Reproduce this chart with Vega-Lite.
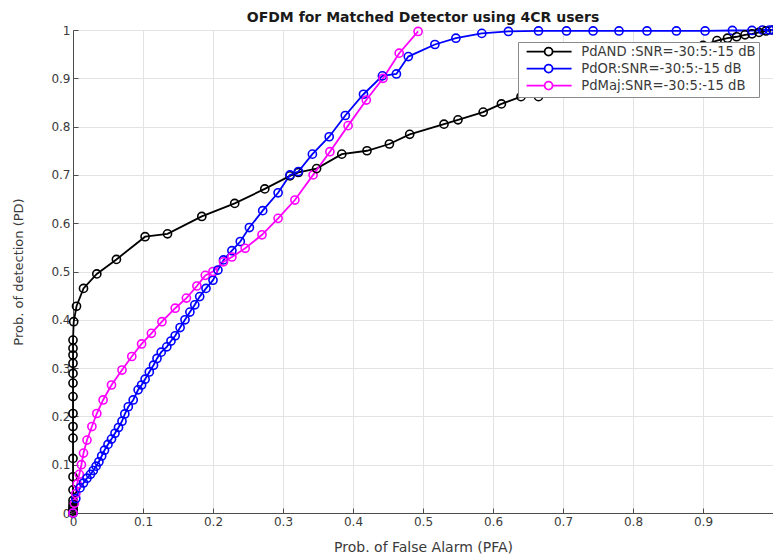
{
  "$schema": "https://vega.github.io/schema/vega-lite/v6.json",
  "width": 700,
  "height": 483,
  "autosize": {"type": "none"},
  "padding": {"left": 73, "top": 30, "right": 0, "bottom": 47},
  "background": "white",
  "config": {
    "font": "DejaVu Sans",
    "view": {"stroke": null},
    "axis": {
      "gridColor": "#e3e3e3",
      "gridWidth": 1,
      "domainColor": "#4d4d4d",
      "tickColor": "#4d4d4d",
      "tickSize": -5,
      "labelFont": "DejaVu Sans",
      "labelFontSize": 12,
      "labelColor": "#3a3a3a",
      "titleFont": "DejaVu Sans",
      "titleFontWeight": "normal",
      "titleColor": "#3a3a3a"
    }
  },
  "title": {
    "text": "OFDM for Matched Detector using 4CR users",
    "font": "DejaVu Sans",
    "fontSize": 14,
    "fontWeight": "bold",
    "color": "#1a1a1a",
    "offset": -2,
    "anchor": "middle"
  },
  "data": {
    "values": [
      {"s": "PdAND :SNR=-30:5:-15 dB", "x": 0, "y": 0},
      {"s": "PdAND :SNR=-30:5:-15 dB", "x": 0, "y": 0.004},
      {"s": "PdAND :SNR=-30:5:-15 dB", "x": 0, "y": 0.008},
      {"s": "PdAND :SNR=-30:5:-15 dB", "x": 0, "y": 0.012},
      {"s": "PdAND :SNR=-30:5:-15 dB", "x": 0, "y": 0.018},
      {"s": "PdAND :SNR=-30:5:-15 dB", "x": 0, "y": 0.026},
      {"s": "PdAND :SNR=-30:5:-15 dB", "x": 0, "y": 0.048},
      {"s": "PdAND :SNR=-30:5:-15 dB", "x": 0, "y": 0.075},
      {"s": "PdAND :SNR=-30:5:-15 dB", "x": 0, "y": 0.113},
      {"s": "PdAND :SNR=-30:5:-15 dB", "x": 0, "y": 0.155},
      {"s": "PdAND :SNR=-30:5:-15 dB", "x": 0, "y": 0.179},
      {"s": "PdAND :SNR=-30:5:-15 dB", "x": 0, "y": 0.206},
      {"s": "PdAND :SNR=-30:5:-15 dB", "x": 0, "y": 0.241},
      {"s": "PdAND :SNR=-30:5:-15 dB", "x": 0, "y": 0.269},
      {"s": "PdAND :SNR=-30:5:-15 dB", "x": 0, "y": 0.289},
      {"s": "PdAND :SNR=-30:5:-15 dB", "x": 0, "y": 0.31},
      {"s": "PdAND :SNR=-30:5:-15 dB", "x": 0, "y": 0.327},
      {"s": "PdAND :SNR=-30:5:-15 dB", "x": 0, "y": 0.341},
      {"s": "PdAND :SNR=-30:5:-15 dB", "x": 0, "y": 0.358},
      {"s": "PdAND :SNR=-30:5:-15 dB", "x": 0.001, "y": 0.396},
      {"s": "PdAND :SNR=-30:5:-15 dB", "x": 0.005, "y": 0.428},
      {"s": "PdAND :SNR=-30:5:-15 dB", "x": 0.015, "y": 0.465},
      {"s": "PdAND :SNR=-30:5:-15 dB", "x": 0.034, "y": 0.495},
      {"s": "PdAND :SNR=-30:5:-15 dB", "x": 0.062, "y": 0.525},
      {"s": "PdAND :SNR=-30:5:-15 dB", "x": 0.103, "y": 0.572},
      {"s": "PdAND :SNR=-30:5:-15 dB", "x": 0.135, "y": 0.578},
      {"s": "PdAND :SNR=-30:5:-15 dB", "x": 0.184, "y": 0.614},
      {"s": "PdAND :SNR=-30:5:-15 dB", "x": 0.231, "y": 0.641},
      {"s": "PdAND :SNR=-30:5:-15 dB", "x": 0.274, "y": 0.671},
      {"s": "PdAND :SNR=-30:5:-15 dB", "x": 0.31, "y": 0.698},
      {"s": "PdAND :SNR=-30:5:-15 dB", "x": 0.322, "y": 0.705},
      {"s": "PdAND :SNR=-30:5:-15 dB", "x": 0.348, "y": 0.713},
      {"s": "PdAND :SNR=-30:5:-15 dB", "x": 0.384, "y": 0.743},
      {"s": "PdAND :SNR=-30:5:-15 dB", "x": 0.42, "y": 0.75},
      {"s": "PdAND :SNR=-30:5:-15 dB", "x": 0.452, "y": 0.764},
      {"s": "PdAND :SNR=-30:5:-15 dB", "x": 0.481, "y": 0.784},
      {"s": "PdAND :SNR=-30:5:-15 dB", "x": 0.53, "y": 0.805},
      {"s": "PdAND :SNR=-30:5:-15 dB", "x": 0.55, "y": 0.814},
      {"s": "PdAND :SNR=-30:5:-15 dB", "x": 0.586, "y": 0.83},
      {"s": "PdAND :SNR=-30:5:-15 dB", "x": 0.612, "y": 0.847},
      {"s": "PdAND :SNR=-30:5:-15 dB", "x": 0.64, "y": 0.862},
      {"s": "PdAND :SNR=-30:5:-15 dB", "x": 0.665, "y": 0.862},
      {"s": "PdAND :SNR=-30:5:-15 dB", "x": 0.7, "y": 0.888},
      {"s": "PdAND :SNR=-30:5:-15 dB", "x": 0.74, "y": 0.902},
      {"s": "PdAND :SNR=-30:5:-15 dB", "x": 0.78, "y": 0.918},
      {"s": "PdAND :SNR=-30:5:-15 dB", "x": 0.82, "y": 0.935},
      {"s": "PdAND :SNR=-30:5:-15 dB", "x": 0.86, "y": 0.952},
      {"s": "PdAND :SNR=-30:5:-15 dB", "x": 0.9, "y": 0.968},
      {"s": "PdAND :SNR=-30:5:-15 dB", "x": 0.92, "y": 0.978},
      {"s": "PdAND :SNR=-30:5:-15 dB", "x": 0.935, "y": 0.983},
      {"s": "PdAND :SNR=-30:5:-15 dB", "x": 0.948, "y": 0.986},
      {"s": "PdAND :SNR=-30:5:-15 dB", "x": 0.96, "y": 0.99},
      {"s": "PdAND :SNR=-30:5:-15 dB", "x": 0.97, "y": 0.992},
      {"s": "PdAND :SNR=-30:5:-15 dB", "x": 0.98, "y": 0.995},
      {"s": "PdAND :SNR=-30:5:-15 dB", "x": 0.99, "y": 0.998},
      {"s": "PdAND :SNR=-30:5:-15 dB", "x": 1, "y": 1},
      {"s": "PdOR:SNR=-30:5:-15 dB", "x": 0, "y": 0},
      {"s": "PdOR:SNR=-30:5:-15 dB", "x": 0.004, "y": 0.03},
      {"s": "PdOR:SNR=-30:5:-15 dB", "x": 0.01, "y": 0.052},
      {"s": "PdOR:SNR=-30:5:-15 dB", "x": 0.015, "y": 0.062},
      {"s": "PdOR:SNR=-30:5:-15 dB", "x": 0.02, "y": 0.072},
      {"s": "PdOR:SNR=-30:5:-15 dB", "x": 0.025, "y": 0.08},
      {"s": "PdOR:SNR=-30:5:-15 dB", "x": 0.029, "y": 0.088},
      {"s": "PdOR:SNR=-30:5:-15 dB", "x": 0.033, "y": 0.097},
      {"s": "PdOR:SNR=-30:5:-15 dB", "x": 0.037, "y": 0.106},
      {"s": "PdOR:SNR=-30:5:-15 dB", "x": 0.041, "y": 0.118},
      {"s": "PdOR:SNR=-30:5:-15 dB", "x": 0.045, "y": 0.13},
      {"s": "PdOR:SNR=-30:5:-15 dB", "x": 0.05, "y": 0.142},
      {"s": "PdOR:SNR=-30:5:-15 dB", "x": 0.055, "y": 0.153},
      {"s": "PdOR:SNR=-30:5:-15 dB", "x": 0.06, "y": 0.165},
      {"s": "PdOR:SNR=-30:5:-15 dB", "x": 0.065, "y": 0.177},
      {"s": "PdOR:SNR=-30:5:-15 dB", "x": 0.07, "y": 0.19},
      {"s": "PdOR:SNR=-30:5:-15 dB", "x": 0.074, "y": 0.205},
      {"s": "PdOR:SNR=-30:5:-15 dB", "x": 0.079, "y": 0.22},
      {"s": "PdOR:SNR=-30:5:-15 dB", "x": 0.086, "y": 0.234},
      {"s": "PdOR:SNR=-30:5:-15 dB", "x": 0.093, "y": 0.255},
      {"s": "PdOR:SNR=-30:5:-15 dB", "x": 0.098, "y": 0.265},
      {"s": "PdOR:SNR=-30:5:-15 dB", "x": 0.103, "y": 0.277},
      {"s": "PdOR:SNR=-30:5:-15 dB", "x": 0.109, "y": 0.292},
      {"s": "PdOR:SNR=-30:5:-15 dB", "x": 0.115, "y": 0.306},
      {"s": "PdOR:SNR=-30:5:-15 dB", "x": 0.12, "y": 0.32},
      {"s": "PdOR:SNR=-30:5:-15 dB", "x": 0.126, "y": 0.333},
      {"s": "PdOR:SNR=-30:5:-15 dB", "x": 0.134, "y": 0.344},
      {"s": "PdOR:SNR=-30:5:-15 dB", "x": 0.14, "y": 0.356},
      {"s": "PdOR:SNR=-30:5:-15 dB", "x": 0.146, "y": 0.367},
      {"s": "PdOR:SNR=-30:5:-15 dB", "x": 0.153, "y": 0.384},
      {"s": "PdOR:SNR=-30:5:-15 dB", "x": 0.16, "y": 0.4},
      {"s": "PdOR:SNR=-30:5:-15 dB", "x": 0.167, "y": 0.416},
      {"s": "PdOR:SNR=-30:5:-15 dB", "x": 0.174, "y": 0.431},
      {"s": "PdOR:SNR=-30:5:-15 dB", "x": 0.181, "y": 0.448},
      {"s": "PdOR:SNR=-30:5:-15 dB", "x": 0.19, "y": 0.465},
      {"s": "PdOR:SNR=-30:5:-15 dB", "x": 0.2, "y": 0.482},
      {"s": "PdOR:SNR=-30:5:-15 dB", "x": 0.207, "y": 0.503},
      {"s": "PdOR:SNR=-30:5:-15 dB", "x": 0.215, "y": 0.524},
      {"s": "PdOR:SNR=-30:5:-15 dB", "x": 0.227, "y": 0.543},
      {"s": "PdOR:SNR=-30:5:-15 dB", "x": 0.239, "y": 0.562},
      {"s": "PdOR:SNR=-30:5:-15 dB", "x": 0.252, "y": 0.591},
      {"s": "PdOR:SNR=-30:5:-15 dB", "x": 0.271, "y": 0.626},
      {"s": "PdOR:SNR=-30:5:-15 dB", "x": 0.293, "y": 0.663},
      {"s": "PdOR:SNR=-30:5:-15 dB", "x": 0.31, "y": 0.7},
      {"s": "PdOR:SNR=-30:5:-15 dB", "x": 0.322, "y": 0.707},
      {"s": "PdOR:SNR=-30:5:-15 dB", "x": 0.342, "y": 0.743},
      {"s": "PdOR:SNR=-30:5:-15 dB", "x": 0.366, "y": 0.779},
      {"s": "PdOR:SNR=-30:5:-15 dB", "x": 0.389, "y": 0.823},
      {"s": "PdOR:SNR=-30:5:-15 dB", "x": 0.415, "y": 0.867},
      {"s": "PdOR:SNR=-30:5:-15 dB", "x": 0.442, "y": 0.905},
      {"s": "PdOR:SNR=-30:5:-15 dB", "x": 0.462, "y": 0.909},
      {"s": "PdOR:SNR=-30:5:-15 dB", "x": 0.479, "y": 0.945},
      {"s": "PdOR:SNR=-30:5:-15 dB", "x": 0.517, "y": 0.97},
      {"s": "PdOR:SNR=-30:5:-15 dB", "x": 0.547, "y": 0.983},
      {"s": "PdOR:SNR=-30:5:-15 dB", "x": 0.584, "y": 0.993},
      {"s": "PdOR:SNR=-30:5:-15 dB", "x": 0.622, "y": 0.997},
      {"s": "PdOR:SNR=-30:5:-15 dB", "x": 0.665, "y": 0.998},
      {"s": "PdOR:SNR=-30:5:-15 dB", "x": 0.705, "y": 0.998},
      {"s": "PdOR:SNR=-30:5:-15 dB", "x": 0.743, "y": 0.998},
      {"s": "PdOR:SNR=-30:5:-15 dB", "x": 0.78, "y": 0.998},
      {"s": "PdOR:SNR=-30:5:-15 dB", "x": 0.82, "y": 0.998},
      {"s": "PdOR:SNR=-30:5:-15 dB", "x": 0.862, "y": 0.998},
      {"s": "PdOR:SNR=-30:5:-15 dB", "x": 0.903, "y": 0.998},
      {"s": "PdOR:SNR=-30:5:-15 dB", "x": 0.942, "y": 0.999},
      {"s": "PdOR:SNR=-30:5:-15 dB", "x": 0.97, "y": 0.999},
      {"s": "PdOR:SNR=-30:5:-15 dB", "x": 0.985, "y": 1},
      {"s": "PdOR:SNR=-30:5:-15 dB", "x": 0.995, "y": 1},
      {"s": "PdOR:SNR=-30:5:-15 dB", "x": 1, "y": 1},
      {"s": "PdMaj:SNR=-30:5:-15 dB", "x": 0, "y": 0},
      {"s": "PdMaj:SNR=-30:5:-15 dB", "x": 0.002, "y": 0.02},
      {"s": "PdMaj:SNR=-30:5:-15 dB", "x": 0.004, "y": 0.04},
      {"s": "PdMaj:SNR=-30:5:-15 dB", "x": 0.006, "y": 0.06},
      {"s": "PdMaj:SNR=-30:5:-15 dB", "x": 0.009, "y": 0.08},
      {"s": "PdMaj:SNR=-30:5:-15 dB", "x": 0.012, "y": 0.1},
      {"s": "PdMaj:SNR=-30:5:-15 dB", "x": 0.015, "y": 0.124},
      {"s": "PdMaj:SNR=-30:5:-15 dB", "x": 0.02, "y": 0.151},
      {"s": "PdMaj:SNR=-30:5:-15 dB", "x": 0.027, "y": 0.179},
      {"s": "PdMaj:SNR=-30:5:-15 dB", "x": 0.034, "y": 0.206},
      {"s": "PdMaj:SNR=-30:5:-15 dB", "x": 0.043, "y": 0.234},
      {"s": "PdMaj:SNR=-30:5:-15 dB", "x": 0.055, "y": 0.265},
      {"s": "PdMaj:SNR=-30:5:-15 dB", "x": 0.07, "y": 0.296},
      {"s": "PdMaj:SNR=-30:5:-15 dB", "x": 0.084, "y": 0.324},
      {"s": "PdMaj:SNR=-30:5:-15 dB", "x": 0.098, "y": 0.35},
      {"s": "PdMaj:SNR=-30:5:-15 dB", "x": 0.112, "y": 0.372},
      {"s": "PdMaj:SNR=-30:5:-15 dB", "x": 0.127, "y": 0.396},
      {"s": "PdMaj:SNR=-30:5:-15 dB", "x": 0.146, "y": 0.424},
      {"s": "PdMaj:SNR=-30:5:-15 dB", "x": 0.162, "y": 0.445},
      {"s": "PdMaj:SNR=-30:5:-15 dB", "x": 0.177, "y": 0.47},
      {"s": "PdMaj:SNR=-30:5:-15 dB", "x": 0.189, "y": 0.492},
      {"s": "PdMaj:SNR=-30:5:-15 dB", "x": 0.2, "y": 0.5},
      {"s": "PdMaj:SNR=-30:5:-15 dB", "x": 0.215, "y": 0.52},
      {"s": "PdMaj:SNR=-30:5:-15 dB", "x": 0.227, "y": 0.53},
      {"s": "PdMaj:SNR=-30:5:-15 dB", "x": 0.246, "y": 0.548},
      {"s": "PdMaj:SNR=-30:5:-15 dB", "x": 0.27, "y": 0.576},
      {"s": "PdMaj:SNR=-30:5:-15 dB", "x": 0.293, "y": 0.61},
      {"s": "PdMaj:SNR=-30:5:-15 dB", "x": 0.317, "y": 0.648},
      {"s": "PdMaj:SNR=-30:5:-15 dB", "x": 0.343, "y": 0.7},
      {"s": "PdMaj:SNR=-30:5:-15 dB", "x": 0.367, "y": 0.748},
      {"s": "PdMaj:SNR=-30:5:-15 dB", "x": 0.393, "y": 0.802},
      {"s": "PdMaj:SNR=-30:5:-15 dB", "x": 0.419, "y": 0.855},
      {"s": "PdMaj:SNR=-30:5:-15 dB", "x": 0.443, "y": 0.9},
      {"s": "PdMaj:SNR=-30:5:-15 dB", "x": 0.466, "y": 0.952},
      {"s": "PdMaj:SNR=-30:5:-15 dB", "x": 0.493, "y": 0.997}
    ]
  },
  "mark": {
    "type": "line",
    "strokeWidth": 1.8,
    "clip": false,
    "point": {"filled": false, "size": 66, "strokeWidth": 1.6}
  },
  "encoding": {
    "x": {
      "field": "x",
      "type": "quantitative",
      "scale": {"domain": [0, 1], "nice": false, "zero": false},
      "axis": {
        "title": "Prob. of False Alarm (PFA)",
        "titleFontSize": 14,
        "values": [0, 0.1, 0.2, 0.3, 0.4, 0.5, 0.6, 0.7, 0.8, 0.9, 1],
        "labelExpr": "datum.value >= 1 ? '' : datum.label",
        "format": "~g",
        "labelPadding": 8,
        "titlePadding": 13,
        "labelFlush": false,
        "labelOverlap": false
      }
    },
    "y": {
      "field": "y",
      "type": "quantitative",
      "scale": {"domain": [0, 1], "nice": false, "zero": false},
      "axis": {
        "title": "Prob. of detection (PD)",
        "titleFontSize": 13,
        "values": [0, 0.1, 0.2, 0.3, 0.4, 0.5, 0.6, 0.7, 0.8, 0.9, 1],
        "format": "~g",
        "labelPadding": 8,
        "titlePadding": 25,
        "labelFlush": false,
        "labelOverlap": false
      }
    },
    "color": {
      "field": "s",
      "type": "nominal",
      "sort": null,
      "scale": {
        "domain": ["PdAND :SNR=-30:5:-15 dB", "PdOR:SNR=-30:5:-15 dB", "PdMaj:SNR=-30:5:-15 dB"],
        "range": ["#000000", "#0000ff", "#ff00ff"]
      },
      "legend": {
        "title": null,
        "orient": "none",
        "legendX": 445,
        "legendY": 12,
        "direction": "vertical",
        "fillColor": "white",
        "strokeColor": "#8a8a8a",
        "padding": 3,
        "rowPadding": 1,
        "symbolType": "M-0.2,0L3.4,0M5,0L8.8,0M5,0A0.8,0.8,0,1,1,3.4,0A0.8,0.8,0,1,1,5,0",
        "symbolSize": 100,
        "symbolStrokeWidth": 1.8,
        "symbolFillColor": "transparent",
        "labelFont": "DejaVu Sans",
        "labelFontSize": 13.2,
        "labelColor": "#3a3a3a",
        "labelOffset": 47,
        "labelLimit": 300
      }
    },
    "order": {"field": "x", "type": "quantitative"}
  }
}
